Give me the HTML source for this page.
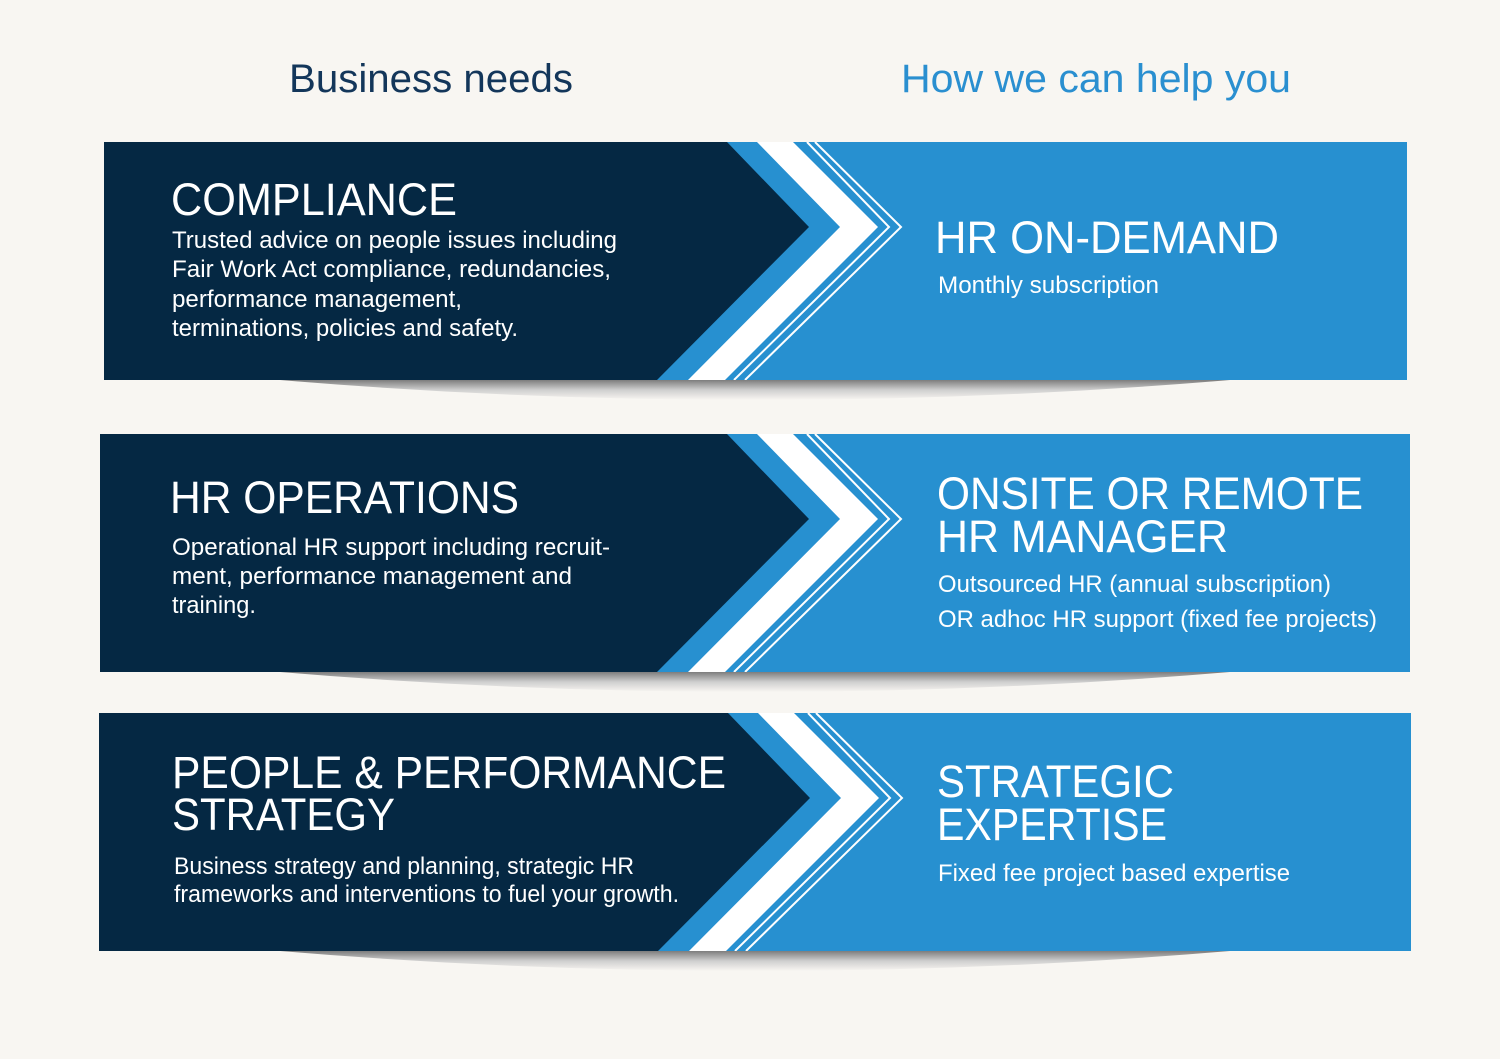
<!DOCTYPE html>
<html><head><meta charset="utf-8"><style>
html,body{margin:0;padding:0;background:#f8f6f2;}
svg{display:block}
text{font-family:"Liberation Sans",sans-serif;}
</style></head><body>
<svg width="1500" height="1059" viewBox="0 0 1500 1059" xmlns="http://www.w3.org/2000/svg">
<defs>
<radialGradient id="sh" cx="0.5" cy="0" r="0.5" gradientTransform="translate(0,0) scale(1,1)">
<stop offset="0" stop-color="#8a8a8a"/>
<stop offset="0.5" stop-color="#c8c8c8"/>
<stop offset="1" stop-color="#f8f6f2" stop-opacity="0"/>
</radialGradient>
<linearGradient id="shv" x1="0" y1="0" x2="0" y2="1">
<stop offset="0" stop-color="#7d7d7d"/>
<stop offset="0.5" stop-color="#cfcfcf"/>
<stop offset="1" stop-color="#f8f6f2"/>
</linearGradient>
<g id="chev">
<polygon points="727,0 809,85 657,238 0,238 0,0" fill="#052843"/>
<polygon points="757,0 840,85 688,238 725,238 878,85 793,0" fill="#ffffff"/>
<polyline points="807,0 889,85 734,238" fill="none" stroke="#fff" stroke-width="2"/>
<polyline points="815,0 901,85 745,238" fill="none" stroke="#fff" stroke-width="2"/>
</g>
</defs>
<rect width="1500" height="1059" fill="#f8f6f2"/>

<text x="289" y="92" font-size="40" fill="#13365a" textLength="284" lengthAdjust="spacingAndGlyphs">Business needs</text>
<text x="901" y="92" font-size="40" fill="#2a8fd0" textLength="390" lengthAdjust="spacingAndGlyphs">How we can help you</text>

<!-- shadows -->
<path d="M280,380 L1230,380 Q755,420 280,380 Z" fill="url(#shv)"/>
<path d="M280,672 L1230,672 Q755,712 280,672 Z" fill="url(#shv)"/>
<path d="M280,951 L1230,951 Q755,991 280,951 Z" fill="url(#shv)"/>

<!-- panel 1 -->
<svg x="104" y="142" width="1303" height="238" viewBox="104 0 1303 238">
<rect x="0" y="0" width="1500" height="238" fill="#2790d0"/>
<use href="#chev"/>
</svg>
<!-- panel 2 -->
<svg x="100" y="434" width="1310" height="238" viewBox="100 0 1310 238">
<rect x="0" y="0" width="1500" height="238" fill="#2790d0"/>
<use href="#chev"/>
</svg>
<!-- panel 3 -->
<svg x="99" y="713" width="1312" height="238" viewBox="99 0 1312 238">
<rect x="0" y="0" width="1500" height="238" fill="#2790d0"/>
<g transform="translate(1,0)"><use href="#chev"/></g>
</svg>

<g fill="#ffffff">
<text x="171" y="215" font-size="45" textLength="286" lengthAdjust="spacingAndGlyphs">COMPLIANCE</text>
<text x="172" y="248" font-size="24" textLength="445" lengthAdjust="spacingAndGlyphs">Trusted advice on people issues including</text>
<text x="172" y="277" font-size="24" textLength="439" lengthAdjust="spacingAndGlyphs">Fair Work Act compliance, redundancies,</text>
<text x="172" y="307" font-size="24" textLength="290" lengthAdjust="spacingAndGlyphs">performance management,</text>
<text x="172" y="336" font-size="24" textLength="346" lengthAdjust="spacingAndGlyphs">terminations, policies and safety.</text>

<text x="935" y="253" font-size="45" textLength="344" lengthAdjust="spacingAndGlyphs">HR ON-DEMAND</text>
<text x="938" y="293" font-size="24" textLength="221" lengthAdjust="spacingAndGlyphs">Monthly subscription</text>

<text x="170" y="513" font-size="45" textLength="349" lengthAdjust="spacingAndGlyphs">HR OPERATIONS</text>
<text x="172" y="555" font-size="24" textLength="438" lengthAdjust="spacingAndGlyphs">Operational HR support including recruit-</text>
<text x="172" y="584" font-size="24" textLength="400" lengthAdjust="spacingAndGlyphs">ment, performance management and</text>
<text x="172" y="613" font-size="24" textLength="84" lengthAdjust="spacingAndGlyphs">training.</text>

<text x="937" y="509" font-size="45" textLength="426" lengthAdjust="spacingAndGlyphs">ONSITE OR REMOTE</text>
<text x="937" y="552" font-size="45" textLength="291" lengthAdjust="spacingAndGlyphs">HR MANAGER</text>
<text x="938" y="592" font-size="24" textLength="393" lengthAdjust="spacingAndGlyphs">Outsourced HR (annual subscription)</text>
<text x="938" y="627" font-size="24" textLength="439" lengthAdjust="spacingAndGlyphs">OR adhoc HR support (fixed fee projects)</text>

<text x="172" y="788" font-size="45" textLength="554" lengthAdjust="spacingAndGlyphs">PEOPLE &amp; PERFORMANCE</text>
<text x="172" y="830" font-size="45" textLength="223" lengthAdjust="spacingAndGlyphs">STRATEGY</text>
<text x="174" y="874" font-size="24" textLength="460" lengthAdjust="spacingAndGlyphs">Business strategy and planning, strategic HR</text>
<text x="174" y="902" font-size="24" textLength="505" lengthAdjust="spacingAndGlyphs">frameworks and interventions to fuel your growth.</text>

<text x="937" y="797" font-size="45" textLength="237" lengthAdjust="spacingAndGlyphs">STRATEGIC</text>
<text x="937" y="840" font-size="45" textLength="230" lengthAdjust="spacingAndGlyphs">EXPERTISE</text>
<text x="938" y="881" font-size="24" textLength="352" lengthAdjust="spacingAndGlyphs">Fixed fee project based expertise</text>
</g>
</svg>
</body></html>
